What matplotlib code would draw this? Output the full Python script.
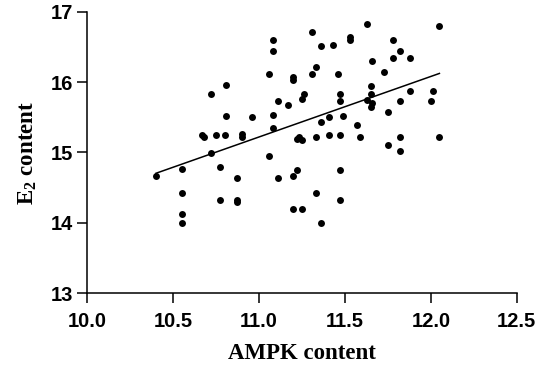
import numpy as np
import matplotlib
matplotlib.use('Agg')
import matplotlib.pyplot as plt

plt.rcParams['mathtext.fontset'] = 'custom'
plt.rcParams['mathtext.rm'] = 'Liberation Serif:bold'
plt.rcParams['mathtext.it'] = 'Liberation Serif:bold'
plt.rcParams['mathtext.bf'] = 'Liberation Serif:bold'

# AMPK content (x) and E2 content (y)
ampk = [11.31, 11.08, 11.08, 11.36, 11.43, 11.06, 11.33, 11.31, 11.20, 11.20,
        11.46, 10.81, 10.72, 11.26, 11.25, 11.11, 11.17, 11.47, 11.47, 10.81,
        10.96, 11.08, 11.41, 11.36, 11.08, 10.67, 10.68, 10.75, 10.80, 10.90,
        10.90, 10.72, 11.06, 11.22, 11.23, 11.25, 11.33, 11.41, 11.47,
        11.63, 12.05, 11.53, 11.53, 11.78, 11.82, 11.66, 11.78, 11.88, 11.73,
        11.65, 11.65, 11.63, 11.66, 11.65, 11.88, 12.01, 11.82, 12.00, 11.75,
        11.49, 11.57, 11.59, 11.82, 12.05, 11.75, 11.82,
        10.40, 10.55, 10.77, 10.87, 11.11, 11.20, 11.22, 11.47, 10.55, 10.77,
        10.87, 10.87, 11.33, 11.47, 10.55, 10.55, 11.20, 11.25, 11.36]
e2 = [16.71, 16.60, 16.44, 16.51, 16.53, 16.12, 16.21, 16.12, 16.07, 16.03,
      16.12, 15.96, 15.83, 15.83, 15.76, 15.73, 15.68, 15.83, 15.73, 15.52,
      15.50, 15.54, 15.51, 15.43, 15.35, 15.25, 15.22, 15.25, 15.25, 15.26,
      15.22, 14.99, 14.95, 15.19, 15.22, 15.18, 15.22, 15.25, 15.25,
      16.83, 16.80, 16.64, 16.60, 16.60, 16.44, 16.30, 16.35, 16.35, 16.14,
      15.94, 15.83, 15.75, 15.71, 15.65, 15.88, 15.88, 15.73, 15.73, 15.58,
      15.52, 15.39, 15.22, 15.22, 15.22, 15.11, 15.02,
      14.66, 14.77, 14.80, 14.64, 14.64, 14.66, 14.75, 14.75, 14.43, 14.32,
      14.32, 14.29, 14.43, 14.32, 14.13, 14.00, 14.19, 14.19, 14.00]

x_ticks = [10.0, 10.5, 11.0, 11.5, 12.0, 12.5]
y_ticks = [13, 14, 15, 16, 17]

x = np.array(ampk)
y = np.array(e2)
slope, icpt = np.polyfit(x, y, 1)
xl = np.array([x.min(), x.max()])

fig = plt.figure(figsize=(5.44, 3.68), dpi=100)
ax = fig.add_axes([0.1605, 0.2038, 0.7893, 0.7636])

ax.plot(x, y, 'o', color='black', ms=5, mew=0)
ax.plot(xl, slope * xl + icpt, color='black', lw=1.1)

ax.set_xlim(10.0, 12.5)
ax.set_ylim(13, 17)
ax.set_xticks(x_ticks)
ax.set_yticks(y_ticks)
ax.set_xticklabels(['%.1f' % v for v in x_ticks])
ax.set_yticklabels([str(v) for v in y_ticks])

for s in ['top', 'right']:
    ax.spines[s].set_visible(False)
for s in ['left', 'bottom']:
    ax.spines[s].set_linewidth(1.1)
ax.tick_params(width=1.1, length=7.5, labelsize=14.5)
ax.tick_params(axis='x', pad=6)
ax.tick_params(axis='y', pad=3)
for lab in ax.get_xticklabels() + ax.get_yticklabels():
    lab.set_fontfamily('Liberation Sans')
    lab.set_fontweight('bold')

ax.set_xlabel('AMPK content', family='Liberation Serif', weight='bold',
              fontsize=16.5, labelpad=9)
ax.set_ylabel('E$_2$ content', family='Liberation Serif', weight='bold',
              fontsize=16.5, labelpad=8)

fig.savefig('out.png', dpi=100)
plt.close(fig)
